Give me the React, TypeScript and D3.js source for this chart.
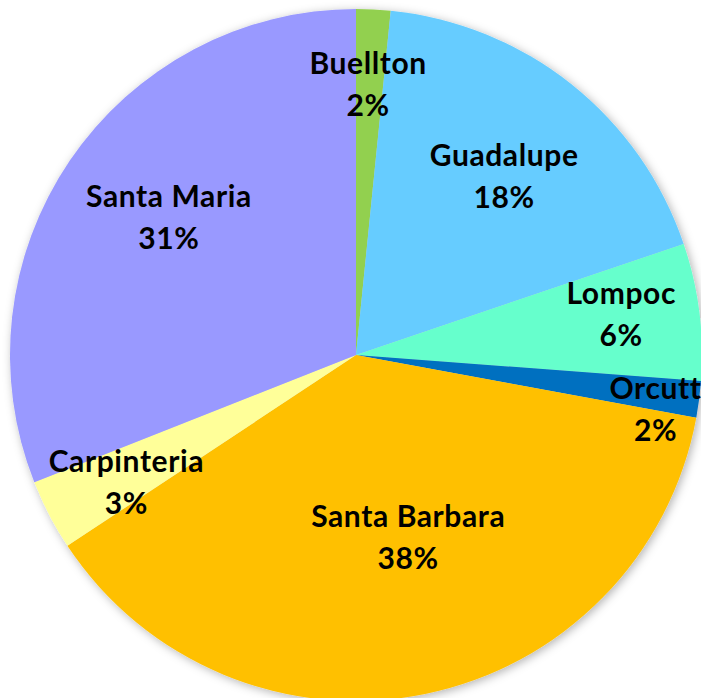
import React from "react";
import * as d3 from "d3";

const categories = ["Buellton", "Guadalupe", "Lompoc", "Orcutt", "Santa Barbara", "Carpinteria", "Santa Maria"];
const values = [1.6, 18.2, 6.4, 1.7, 37.8, 3.3, 31.0];
const colors = ["#92D050", "#66CCFF", "#66FFCC", "#0070C0", "#FFC000", "#FFFF99", "#9999FF"];
// label placement (fraction of radius, angular offset in degrees)
const labelRadius = [0.78, 0.67, 0.775, 0.88, 0.55, 0.76, 0.67];
const labelAngleOffset = [-0.3, 1.2, -1.3, 3, -4.4, -1.6, 2];

const W = 701, H = 698;
const cx = 356, cy = 355, R = 346;

export default function App() {
  const total = d3.sum(values);
  const pie = d3.pie<number>().sort(null).value((d) => d);
  const arcs = pie(values);
  const arc = d3.arc<d3.PieArcDatum<number>>().innerRadius(0).outerRadius(R);
  return (
    <div style={{ position: "absolute", left: 0, top: 0 }}>
      <svg width={W} height={H} style={{ display: "block", background: "#fff" }}>
        <defs>
          <filter id="sh" x="-10%" y="-10%" width="120%" height="120%">
            <feDropShadow dx="2" dy="2" stdDeviation="5" floodColor="#000" floodOpacity="0.3" />
          </filter>
        </defs>
        <g transform={`translate(${cx},${cy})`}>
          <g filter="url(#sh)">
            {arcs.map((a, i) => (
              <path key={i} d={arc(a) || ""} fill={colors[i]} />
            ))}
          </g>
          {arcs.map((a, i) => {
            const mid = (a.startAngle + a.endAngle) / 2 + (labelAngleOffset[i] * Math.PI) / 180;
            const r = R * labelRadius[i];
            const x = Math.sin(mid) * r;
            const y = -Math.cos(mid) * r;
            const pct = Math.round((values[i] / total) * 100) + "%";
            return (
              <text
                key={i}
                x={x}
                y={y}
                textAnchor="middle"
                fontFamily="Lato, 'Open Sans', sans-serif"
                fontWeight={700}
                fontSize={30}
                letterSpacing={0.6}
                fill="#000"
              >
                <tspan x={x} dy={-21 + 10}>{categories[i]}</tspan>
                <tspan x={x} dy={42}>{pct}</tspan>
              </text>
            );
          })}
        </g>
      </svg>
    </div>
  );
}
